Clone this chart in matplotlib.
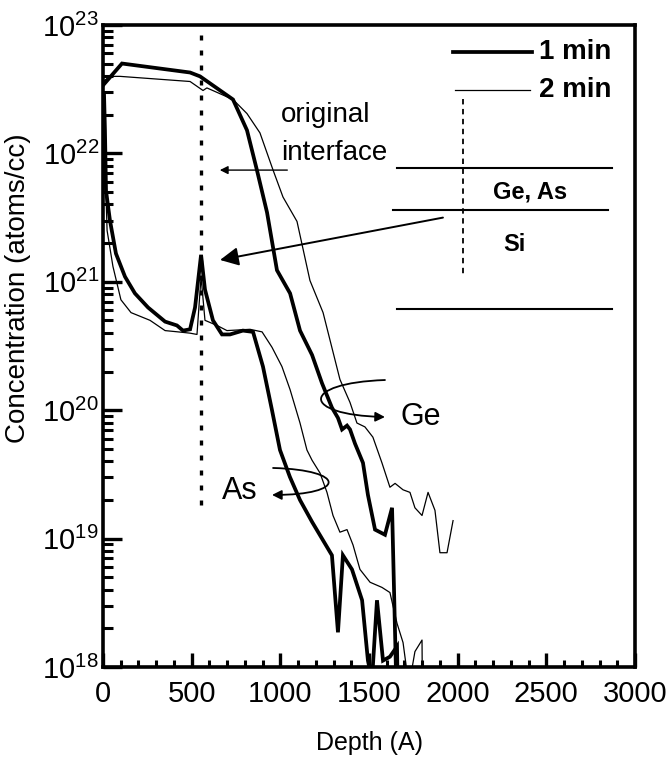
import numpy as np
import matplotlib
matplotlib.use("Agg")
import matplotlib.pyplot as plt
from matplotlib.path import Path
from matplotlib.patches import FancyArrowPatch

plt.rcParams['font.family'] = ['Liberation Sans', 'DejaVu Sans']
plt.rcParams['mathtext.fontset'] = 'custom'
plt.rcParams['mathtext.rm'] = 'Liberation Sans'
plt.rcParams['mathtext.it'] = 'Liberation Sans'
plt.rcParams['mathtext.default'] = 'regular'

# ---------------- data (depth in Angstrom, log10 concentration) ----------------
ge_1min_depth = [0, 107, 491, 547, 733, 812, 868, 925, 981, 1055, 1111, 1179, 1235,
                 1291, 1325, 1348, 1376, 1393, 1421, 1466, 1494, 1534, 1590, 1630, 1655]
ge_1min_log = [22.53, 22.70, 22.63, 22.60, 22.42, 22.18, 21.87, 21.54, 21.09, 20.91,
               20.62, 20.43, 20.21, 20.02, 19.94, 19.85, 19.88, 19.85, 19.74, 19.59,
               19.34, 19.07, 19.03, 19.24, 17.8]

ge_2min_depth = [0, 39, 96, 491, 564, 586, 733, 812, 885, 959, 1015, 1094, 1167, 1241,
                 1336, 1393, 1432, 1477, 1522, 1573, 1618, 1647, 1692, 1731, 1759, 1799,
                 1833, 1872, 1900, 1940, 1974]
ge_2min_log = [22.56, 22.60, 22.60, 22.56, 22.49, 22.51, 22.42, 22.31, 22.16, 21.87,
               21.66, 21.47, 21.01, 20.76, 20.24, 20.06, 19.90, 19.87, 19.79, 19.59,
               19.40, 19.43, 19.38, 19.36, 19.24, 19.18, 19.36, 19.22, 18.89, 18.89, 19.14]

as_1min_depth = [6, 11, 17, 39, 73, 124, 180, 254, 350, 417, 451, 491, 519, 553, 575,
                 620, 671, 716, 789, 846, 902, 953, 998, 1054, 1111, 1179, 1291, 1325,
                 1353, 1404, 1461, 1494, 1517, 1545, 1579, 1618, 1658, 1662]
as_1min_log = [22.45, 22.18, 21.71, 21.48, 21.22, 21.04, 20.91, 20.80, 20.69, 20.66,
               20.62, 20.63, 20.80, 21.21, 20.94, 20.70, 20.59, 20.59, 20.62, 20.61,
               20.34, 20.00, 19.69, 19.48, 19.30, 19.13, 18.87, 18.27, 18.87, 18.76,
               18.52, 18.05, 17.9, 18.52, 18.05, 18.08, 18.16, 17.8]

as_2min_depth = [6, 11, 23, 56, 101, 158, 265, 350, 423, 491, 530, 553, 575, 643, 699,
                 829, 897, 953, 1009, 1055, 1111, 1150, 1179, 1224, 1263, 1297, 1336,
                 1376, 1410, 1449, 1506, 1573, 1618, 1658, 1692, 1725, 1759, 1799, 1801]
as_2min_log = [22.42, 21.95, 21.40, 21.12, 20.86, 20.76, 20.70, 20.62, 20.61, 20.60,
               20.59, 21.04, 20.70, 20.66, 20.62, 20.63, 20.61, 20.49, 20.34, 20.16,
               19.90, 19.69, 19.61, 19.51, 19.36, 19.18, 19.05, 19.07, 18.95, 18.76,
               18.66, 18.62, 18.58, 18.34, 18.19, 17.85, 18.12, 18.21, 17.8]

x_ticks = [0, 500, 1000, 1500, 2000, 2500, 3000]
interface_depth = 550

# ---------------- figure ----------------
fig = plt.figure(figsize=(6.70, 7.59), dpi=100)
ax = fig.add_axes([103 / 670, 1 - 667 / 759, 532 / 670, 642 / 759])

def c(v):
    return 10.0 ** np.asarray(v)

ax.plot(ge_1min_depth, c(ge_1min_log), color='black', lw=2.7, solid_joinstyle='miter')
ax.plot(ge_2min_depth, c(ge_2min_log), color='black', lw=0.9)
ax.plot(as_1min_depth, c(as_1min_log), color='black', lw=2.7, solid_joinstyle='miter')
ax.plot(as_2min_depth, c(as_2min_log), color='black', lw=0.9)

ax.set_yscale('log')
ax.set_xlim(0, 3000)
ax.set_ylim(1e18, 1e23)
ax.set_xticks(x_ticks)
ax.set_xticks(np.arange(0, 3001, 100), minor=True)
ax.set_yticks([1e18, 1e19, 1e20, 1e21, 1e22, 1e23])

for s in ax.spines.values():
    s.set_linewidth(2.6)

ax.tick_params(axis='both', which='both', direction='in', top=False, right=False,
               labelsize=21)
ax.tick_params(axis='y', which='major', length=14, width=2.4, pad=3)
ax.tick_params(axis='y', which='minor', length=7, width=2.2)
ax.tick_params(axis='x', which='major', length=10, width=2.4, pad=9)
ax.tick_params(axis='x', which='minor', length=5, width=2.2)

ax.set_xlabel('Depth (A)', fontsize=18)
ax.xaxis.set_label_coords(0.5, -0.10)
ax.set_ylabel('Concentration (atoms/cc)', fontsize=20)
ax.yaxis.set_label_coords(-0.136, 0.59)

# original interface dotted line
ax.plot([interface_depth, interface_depth], [10 ** 22.92, 10 ** 19.22], color='black',
        lw=2.4, linestyle=(0, (1.5, 3.0)))

ax.text(1004, 10 ** 22.245, 'original', fontsize=20, va='baseline', ha='left')
ax.text(1004, 10 ** 21.95, 'interface', fontsize=20, va='baseline', ha='left')
ax.annotate('', xy=(643, 10 ** 21.87), xytext=(1055, 10 ** 21.87),
            arrowprops=dict(arrowstyle='-|>', color='black', lw=1.0, mutation_scale=12))
ax.annotate('', xy=(660, 10 ** 21.17), xytext=(1917, 10 ** 21.50),
            arrowprops=dict(arrowstyle='-|>', color='black', lw=1.4, mutation_scale=28,
                            shrinkA=0, shrinkB=0))

# layer diagram
ax.plot([1658, 2870], [10 ** 21.886] * 2, color='black', lw=1.5)
ax.plot([1635, 2848], [10 ** 21.56] * 2, color='black', lw=1.5)
ax.plot([1658, 2870], [10 ** 20.79] * 2, color='black', lw=1.5)
ax.plot([2030, 2030], [10 ** 22.42, 10 ** 21.04], color='black', lw=1.3,
        linestyle=(0, (3, 2.5)))
ax.text(2408, 10 ** 21.70, 'Ge, As', fontsize=17, fontweight='bold', ha='center', va='center')
ax.text(2318, 10 ** 21.29, 'Si', fontsize=17, fontweight='bold', ha='center', va='center')

# legend
ax.plot([1974, 2419], [10 ** 22.79] * 2, color='black', lw=2.7)
ax.plot([1985, 2408], [10 ** 22.49] * 2, color='black', lw=0.9)
ax.text(2458, 10 ** 22.79, '1 min', fontsize=20, fontweight='bold', ha='left', va='center')
ax.text(2458, 10 ** 22.49, '2 min', fontsize=20, fontweight='bold', ha='left', va='center')

# loops
def loop(pts, lw=1.3):
    verts = [(x, 10 ** y) for x, y in pts]
    path = Path(verts, [Path.MOVETO, Path.CURVE4, Path.CURVE4, Path.CURVE4])
    p = FancyArrowPatch(path=path, arrowstyle='-|>', mutation_scale=14, color='black', lw=lw)
    ax.add_patch(p)

loop([(1590, 20.235), (1111, 20.212), (1111, 19.963), (1590, 19.947)])
loop([(959, 19.550), (1376, 19.534), (1376, 19.340), (953, 19.340)])
ax.text(1675, 10 ** 19.95, 'Ge', fontsize=22, ha='left', va='center')
ax.text(671, 10 ** 19.37, 'As', fontsize=22, ha='left', va='center')

fig.savefig('out.png', dpi=100)
